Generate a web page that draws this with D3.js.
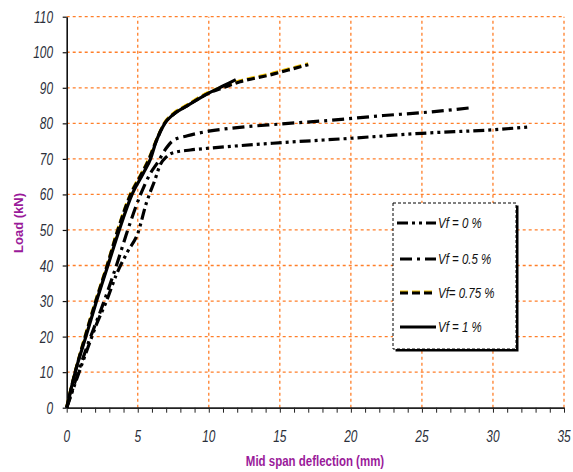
<!DOCTYPE html>
<html>
<head>
<meta charset="utf-8">
<script src="https://cdn.jsdelivr.net/npm/d3@7"></script>
<style>
  body { margin: 0; background: #fff; }
  svg { display: block; font-family: "Liberation Sans", Arial, sans-serif; }
</style>
</head>
<body>
<svg id="chart"></svg>
<script>
const xTicks = [0, 5, 10, 15, 20, 25, 30, 35];
const yTicks = [0, 10, 20, 30, 40, 50, 60, 70, 80, 90, 100, 110];
const seriesNames = ["Vf = 0 %", "Vf = 0.5 %", "Vf= 0.75 %", "Vf = 1 %"];

// [deflection (mm), load (kN)]
const vf0 = [[0, 0], [1.5, 17], [2.1, 23.5], [2.8, 30], [3.5, 37.5], [4.3, 44], [5, 49], [5.6, 57.5],
  [6.2, 64], [6.6, 68.5], [7, 70.5], [7.4, 71.6], [8.7, 72.5], [10, 73], [14.5, 74.4], [20, 75.8],
  [25, 77.2], [30, 78.2], [32.6, 79]];
const vf05 = [[0, 0], [1.5, 18], [2.5, 28.5], [3.5, 40], [4.3, 50], [5.2, 60], [5.9, 66], [6.4, 69],
  [7, 73], [7.5, 75.2], [8.5, 76.5], [10, 77.8], [12, 78.8], [15, 79.8], [18.7, 80.9], [22.3, 82.2],
  [25, 83], [28.5, 84.4]];
const vf075 = [[0, 0], [0.6, 10], [1.3, 20], [2.05, 30], [2.85, 40], [3.6, 50], [4.5, 60], [5.3, 66],
  [5.8, 70], [6.3, 75], [6.9, 80], [7.5, 82.5], [8.5, 85], [10, 88.5], [11, 90], [12.2, 91.7],
  [14.3, 93.6], [15.6, 95], [17, 96.5]];
const vf1 = [[0, 0], [0.6, 10], [1.35, 20], [2.1, 30], [2.9, 40], [3.7, 50], [4.6, 60], [5.4, 66],
  [5.9, 70], [6.3, 75], [6.9, 80], [7.5, 82.5], [8.5, 85], [10, 88.5], [11, 90.5], [11.9, 92.3]];

const W = 573, H = 472;
const svg = d3.select("#chart").attr("width", W).attr("height", H);

const x = d3.scaleLinear().domain([0, 35]).range([66.7, 564]);
const y = d3.scaleLinear().domain([0, 110]).range([407.7, 16.7]);

const gridColor = "#ff7f2a";

// grid
svg.append("g")
  .selectAll("line")
  .data(yTicks.filter((d) => d > 0))
  .join("line")
  .attr("x1", x(0)).attr("x2", x(35))
  .attr("y1", (d) => y(d)).attr("y2", (d) => y(d))
  .attr("stroke", gridColor).attr("stroke-width", 1.3)
  .attr("stroke-dasharray", "3,3");

svg.append("g")
  .selectAll("line")
  .data(xTicks.filter((d) => d > 0))
  .join("line")
  .attr("x1", (d) => x(d)).attr("x2", (d) => x(d))
  .attr("y1", y(0)).attr("y2", y(110))
  .attr("stroke", gridColor).attr("stroke-width", 1.3)
  .attr("stroke-dasharray", "3,3");

// axes
const xAxis = svg.append("g")
  .attr("transform", `translate(0,${y(0)})`)
  .call(d3.axisBottom(x).tickValues(d3.range(0, 36, 1)).tickSize(5).tickSizeOuter(0).tickFormat(""));
xAxis.select(".domain").attr("stroke", "#222").attr("stroke-width", 1.8);
xAxis.selectAll(".tick line").attr("stroke", "#222").attr("stroke-width", 1);

const yAxis = svg.append("g")
  .attr("transform", `translate(${x(0)},0)`)
  .call(d3.axisLeft(y).tickValues(yTicks).tickSize(4).tickSizeOuter(0).tickFormat(""));
yAxis.select(".domain").attr("stroke", "#111").attr("stroke-width", 1.6);
yAxis.selectAll(".tick line").attr("stroke", "#111").attr("stroke-width", 1.2);

// tick labels (italic, horizontally condensed)
svg.append("g")
  .selectAll("text")
  .data(xTicks)
  .join("text")
  .attr("transform", (d) => `translate(${x(d)},442) scale(0.7,1)`)
  .attr("text-anchor", "middle")
  .attr("font-size", 17)
  .attr("font-style", "italic")
  .attr("fill", "#2b2f3a")
  .text((d) => d);

svg.append("g")
  .selectAll("text")
  .data(yTicks)
  .join("text")
  .attr("transform", (d) => `translate(53,${y(d) + 6}) scale(0.7,1)`)
  .attr("text-anchor", "end")
  .attr("font-size", 17)
  .attr("font-style", "italic")
  .attr("fill", "#2b2f3a")
  .text((d) => d);

// axis titles
svg.append("text")
  .attr("transform", "translate(315,466) scale(0.82,1)")
  .attr("text-anchor", "middle")
  .attr("font-size", 14)
  .attr("font-weight", "bold")
  .attr("fill", "#9a1a9a")
  .text("Mid span deflection (mm)");

svg.append("text")
  .attr("transform", "translate(23,223) rotate(-90)")
  .attr("text-anchor", "middle")
  .attr("font-size", 13)
  .attr("font-weight", "bold")
  .attr("fill", "#9a1a9a")
  .text("Load (kN)");

// curves
const line = d3.line().curve(d3.curveMonotoneX).x((d) => x(d[0])).y((d) => y(d[1]));

const styles = [
  { data: vf0, dash: "11,4,3,4,3,4" },
  { data: vf05, dash: "12,5,3,5" },
  { data: vf075, dash: "8,4", yellow: true },
  { data: vf1, dash: null }
];

styles.forEach((s) => {
  if (s.yellow) {
    svg.append("path")
      .attr("d", line(s.data))
      .attr("transform", "translate(0,-1)")
      .attr("fill", "none")
      .attr("stroke", "#f2c200")
      .attr("stroke-width", 3)
      .attr("stroke-dasharray", s.dash);
  }
  svg.append("path")
    .attr("d", line(s.data))
    .attr("fill", "none")
    .attr("stroke", "#000")
    .attr("stroke-width", 3.2)
    .attr("stroke-linejoin", "round")
    .attr("stroke-dasharray", s.dash);
});

// legend
const legend = svg.append("g");
legend.append("rect")
  .attr("x", 395.5).attr("y", 205.5).attr("width", 123).attr("height", 146)
  .attr("fill", "#000");
legend.append("rect")
  .attr("x", 393).attr("y", 203).attr("width", 123).attr("height", 146)
  .attr("fill", "#fff")
  .attr("stroke", "#000").attr("stroke-width", 1)
  .attr("stroke-dasharray", "3,2");

const legendY = [223, 259, 293, 327];
styles.forEach((s, i) => {
  const ly = legendY[i];
  if (s.yellow) {
    legend.append("line")
      .attr("x1", 400).attr("x2", 435).attr("y1", ly - 1).attr("y2", ly - 1)
      .attr("stroke", "#f2c200").attr("stroke-width", 3)
      .attr("stroke-dasharray", "8,4");
  }
  legend.append("line")
    .attr("x1", i === 0 ? 397 : 400).attr("x2", 436)
    .attr("y1", ly).attr("y2", ly)
    .attr("stroke", "#000").attr("stroke-width", 3.2)
    .attr("stroke-dasharray", s.dash);
  legend.append("text")
    .attr("transform", `translate(438,${ly + 5}) scale(0.82,1)`)
    .attr("font-size", 14)
    .attr("font-style", "italic")
    .attr("fill", "#111")
    .text(seriesNames[i]);
});
</script>
</body>
</html>
